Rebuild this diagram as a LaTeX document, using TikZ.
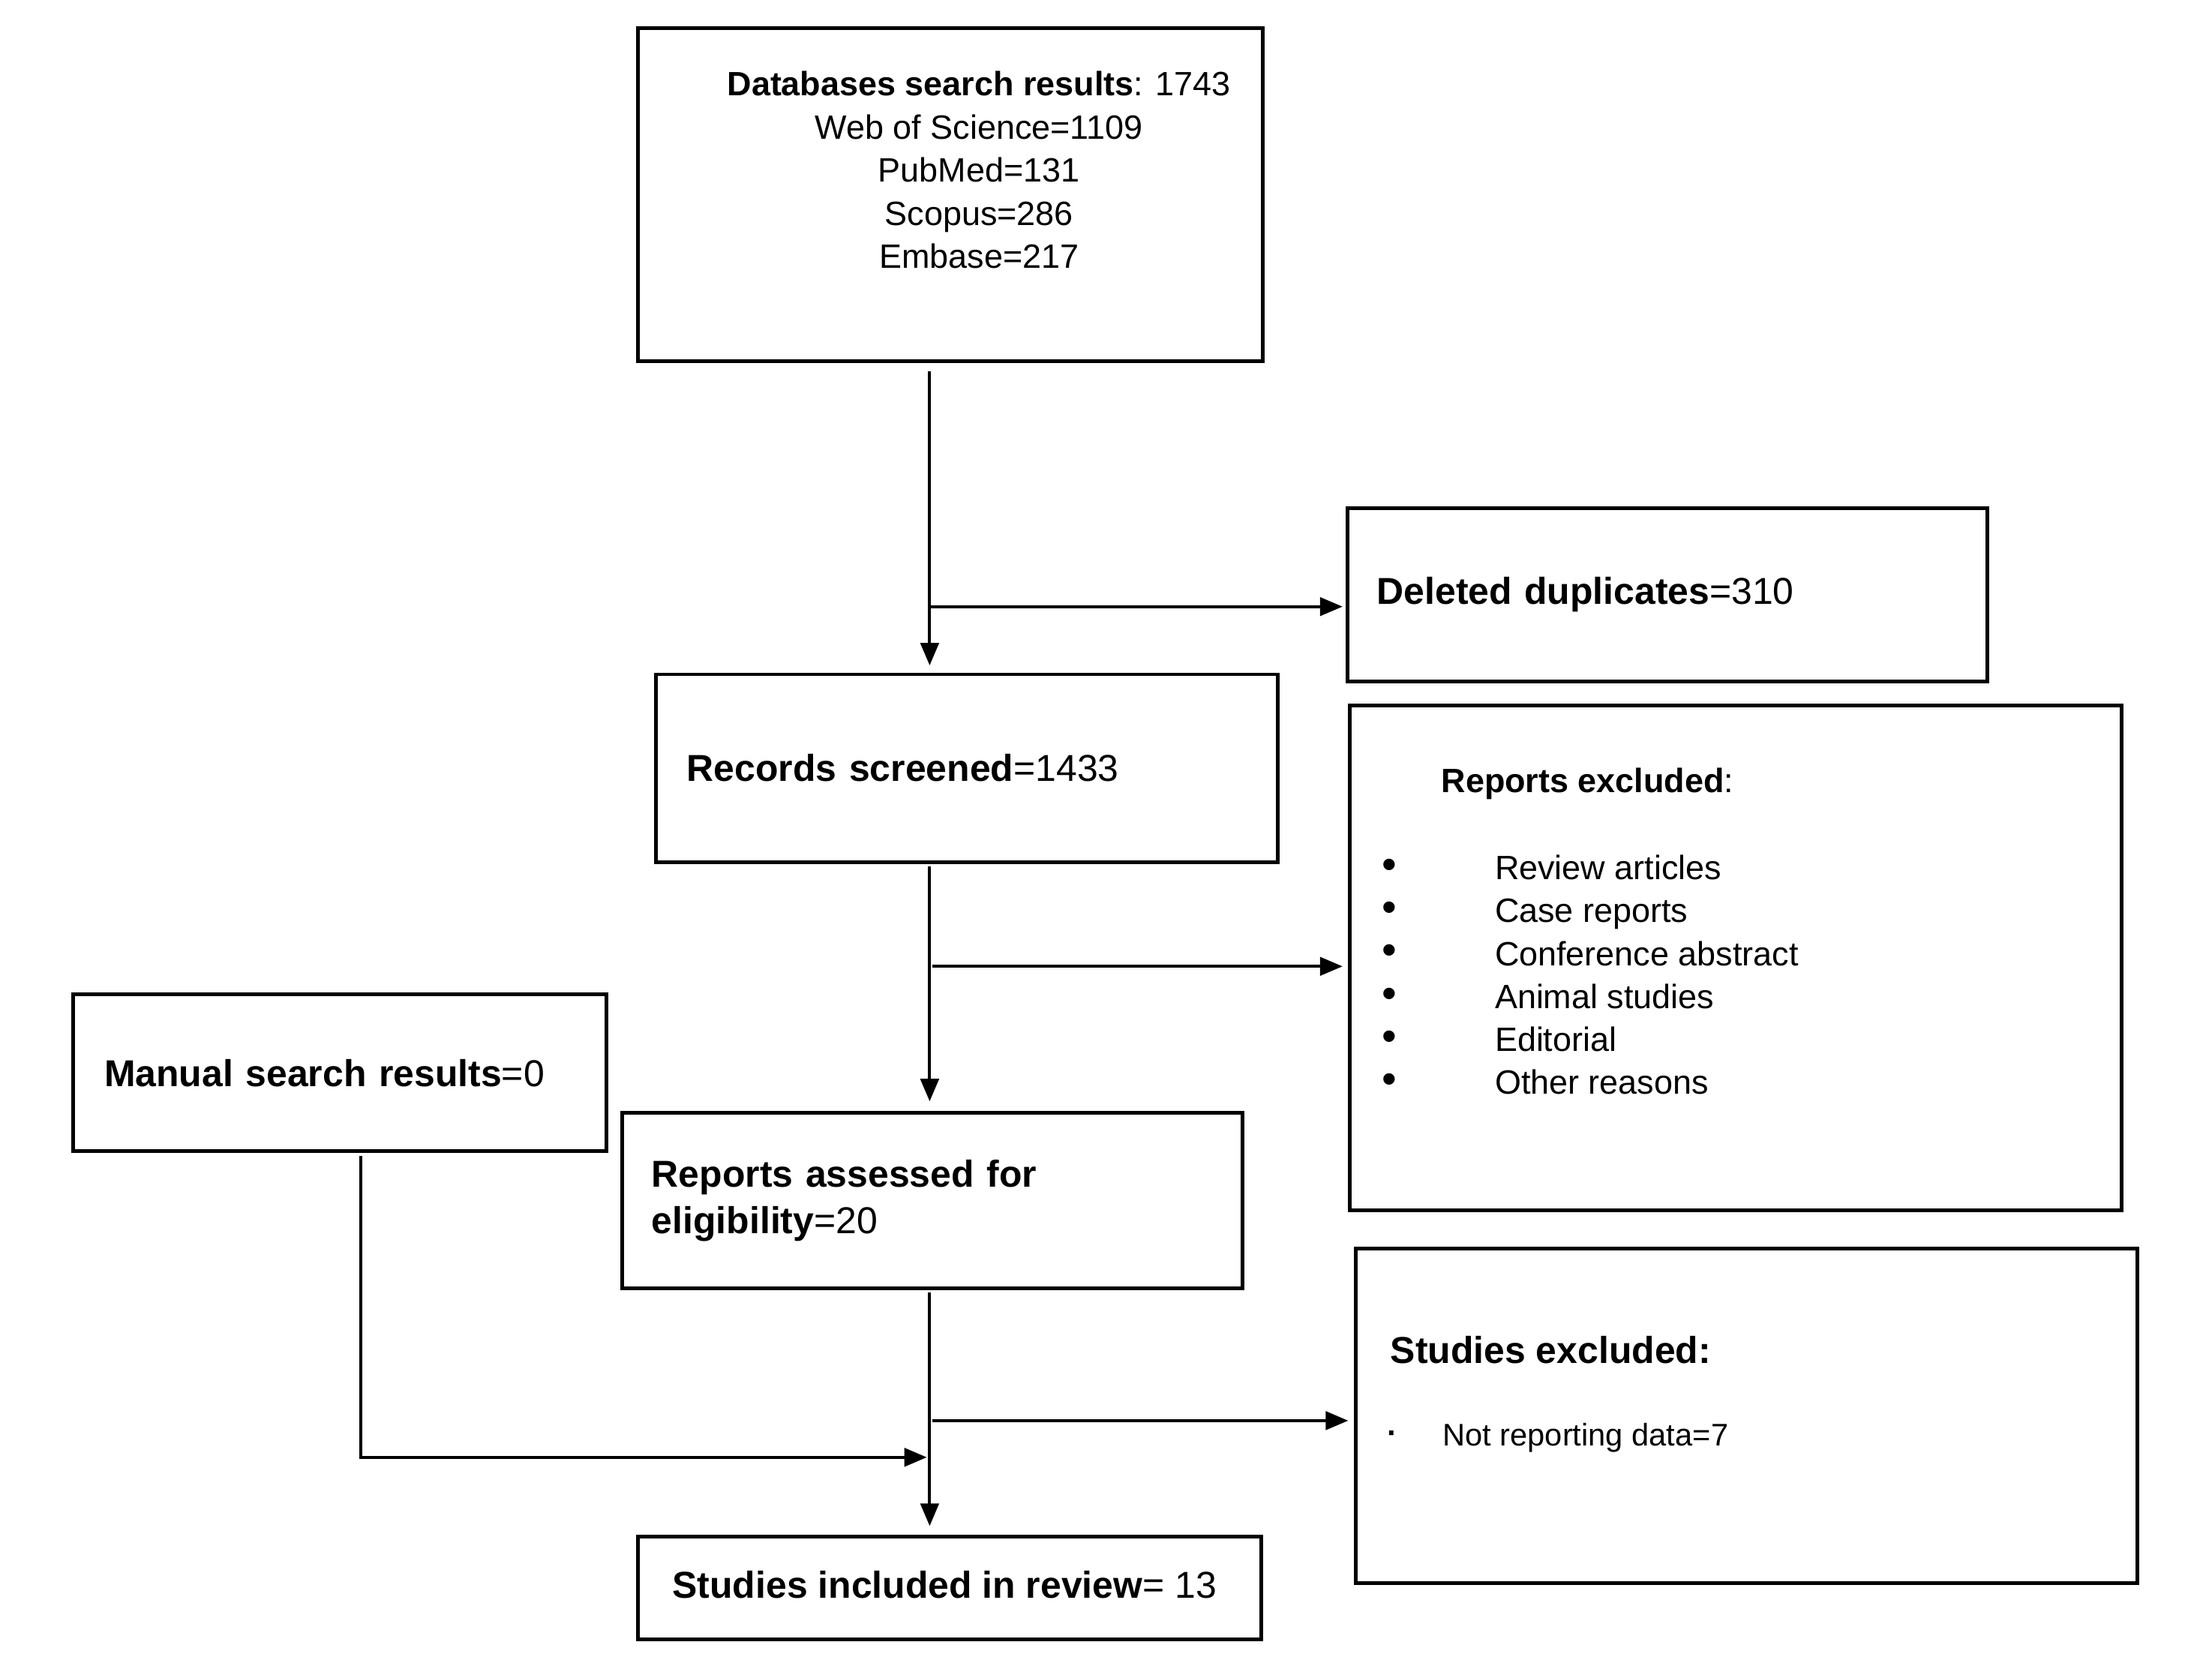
\documentclass[tikz,border=0pt]{standalone}
\usepackage{fontspec}
\setmainfont{Liberation Sans}
\usetikzlibrary{positioning,arrows.meta}
\newcommand{\boxfont}{\fontsize{7.55}{9.4}\selectfont}
\newcommand{\listfont}{\fontsize{6.8}{8.72}\selectfont}
\newcommand{\tinyfont}{\fontsize{6.3}{7.5}\selectfont}
\tikzset{
  panel/.style={draw,line width=0.75pt,rectangle,inner sep=0pt},
  stage/.style={panel,align=left,font=\boxfont},      % box with its own text
  lbl/.style={inner sep=0pt,text depth=0pt},
  flow/.style={-{Triangle[length=1.6mm,width=1.3mm]},line width=0.6pt},
}
\begin{document}
\begin{tikzpicture}[x=0.1mm,y=-0.1mm]
  \useasboundingbox (0,0) rectangle (1568,1189);
  % boxes
  \node[panel,minimum width=4.43cm,minimum height=2.36cm] (db) at (673.5,138) {};
  \node[lbl,align=center,font=\listfont,text depth=] (dbtxt) at (694,120.5)
    {\textbf{Databases search results}: 1743\\Web of Science=1109\\PubMed=131\\Scopus=286\\Embase=217};
  \node[stage,minimum width=4.54cm,minimum height=1.23cm,text width=4.12cm] (dup) at (1182,421.5)
    {\textbf{Deleted duplicates}=310};
  \node[stage,minimum width=4.41cm,minimum height=1.33cm,text width=3.97cm] (rec) at (685.5,544.5)
    {\textbf{Records screened}=1433};
  \node[panel,minimum width=5.47cm,minimum height=3.58cm] (exc) at (1230.5,679) {};
  \node[lbl,anchor=west,font=\listfont] (exchead) at (1021,553) {\textbf{Reports excluded}:};
  \foreach \t [count=\i from 0] in {Review articles,Case reports,Conference abstract,Animal studies,Editorial,Other reasons}{
    \node[lbl,anchor=west,font=\listfont] (why\i) at (1059,615+30.4*\i) {\t};
    \node[lbl,font=\fontsize{8.5}{9}\selectfont] (dot\i) at (985,616+30.4*\i) {•};
  }
  \node[stage,minimum width=3.78cm,minimum height=1.11cm,text width=3.34cm] (man) at (241,760.5)
    {\textbf{Manual search results}=0};
  \node[stage,minimum width=4.40cm,minimum height=1.24cm,text width=3.98cm] (rep) at (661,851)
    {\textbf{Reports assessed for}\\\textbf{eligibility}=20};
  \node[panel,minimum width=5.54cm,minimum height=2.37cm] (sex) at (1238,1003.5) {};
  \node[lbl,anchor=west,font=\boxfont] (sexhead) at (985,957) {\textbf{Studies excluded:}};
  \node[lbl,font=\tinyfont\bfseries] (sexdot) at (987,1019) {·};
  \node[lbl,anchor=west,font=\tinyfont] (sexwhy) at (1022,1017) {Not reporting data=7};
  \node[panel,minimum width=4.42cm,minimum height=0.73cm] (inc) at (673,1125.5) {};
  \node[lbl,anchor=west,font=\boxfont] (inctxt) at (476,1123) {\textbf{Studies included in review}= 13};

  % connectors
  \coordinate (spine) at (659,0);
  \coordinate (mandrop) at (256,0);
  \coordinate (j1) at (659,430);
  \coordinate (j2) at (661,685);
  \coordinate (j3) at (661,1007);
  \coordinate (j4) at (659,1033);
  \draw[flow,shorten <=0.6mm,shorten >=0.5mm] (db.south -| spine) -- (rec.north -| spine);
  \draw[flow,shorten <=0.2mm,shorten >=0.7mm] (rec.south -| spine) -- (rep.north -| spine);
  \draw[flow,shorten <=0.2mm,shorten >=0.6mm] (rep.south -| spine) -- (inc.north -| spine);
  \draw[flow,shorten >=0.2mm] (j1) -- (j1 -| dup.west);
  \draw[flow,shorten >=0.4mm] (j2) -- (j2 -| exc.west);
  \draw[flow,shorten >=0.4mm] (j3) -- (j3 -| sex.west);
  \draw[flow,shorten <=0.2mm,shorten >=0.2mm] (man.south -| mandrop) |- (j4);
\end{tikzpicture}
\end{document}
